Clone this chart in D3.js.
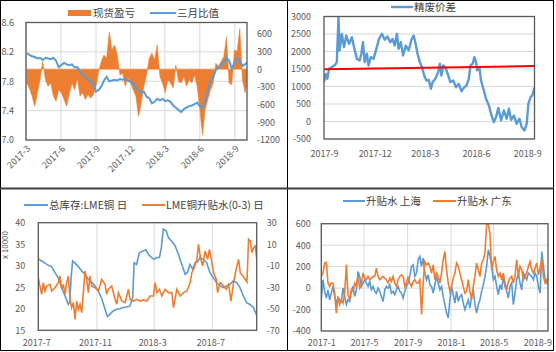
<!DOCTYPE html>
<html><head><meta charset="utf-8">
<script src="https://cdn.jsdelivr.net/npm/d3@7"></script>
<style>
body{margin:0;background:#fff;}
svg text{font-family:"Noto Sans CJK SC","Microsoft YaHei",sans-serif;}
</style></head><body>
<svg id="c" width="556" height="352"></svg>
<script>
// ---------- DATA ----------
// Panel 1 (top-left): weekly, starting 2017-03-03
const plStart = "2017-03-03";
const plValues = [-235,-320,-460,-630,-400,-180,130,-180,-290,-235,-460,-545,-350,-400,-515,-630,-400,-235,-350,-150,
 -460,-400,-515,-430,-490,-430,-290,-40,130,240,185,630,325,410,240,-100,-70,-290,-150,-235,
 -350,-460,-800,-570,-290,-100,185,270,155,410,-125,-235,-400,-180,-235,-320,70,-210,-235,-125,
 -290,-180,-235,-100,-290,-680,-1110,-680,-515,-350,-235,100,45,130,210,545,-235,-265,325,300,
 685,-180,-400,-180];
const ratioValues = [8.18,8.16,8.14,8.13,8.11,8.12,8.09,8.12,8.11,8.10,8.12,8.08,7.99,8.02,8.05,8.03,8.02,8.03,7.99,7.99,
 7.94,7.89,7.86,7.83,7.79,7.78,7.66,7.68,7.73,7.81,7.86,7.80,7.81,7.82,7.81,7.83,7.82,7.83,7.81,7.79,
 7.77,7.71,7.68,7.64,7.66,7.59,7.57,7.50,7.52,7.56,7.54,7.56,7.53,7.54,7.52,7.47,7.44,7.41,7.38,7.42,
 7.44,7.46,7.47,7.49,7.51,7.46,7.44,7.54,7.68,7.81,7.85,7.95,7.99,8.02,8.05,8.12,8.08,7.97,8.05,8.11,
 8.08,8.01,8.03,8.06];
const tlXTicks = ["2017-03-01","2017-06-01","2017-09-01","2017-12-01","2018-03-01","2018-06-01","2018-09-01"];
const tlLeftTicks = [7.0,7.4,7.8,8.2,8.6];
const tlRightTicks = [-1200,-900,-600,-300,0,300,600];

// Panel 2 (top-right): days after 2017-09-01
const spreadStart = "2017-09-01";
const spreadDays = [0,3,6,9,14,20,23,26,28,32,36,40,45,50,54,59,64,67,70,73,77,80,84,89,94,99,104,109,114,119,
 123,127,131,134,138,142,147,152,157,161,164,168,172,176,180,184,188,192,195,200,205,208,211,214,218,223,227,232,237,242,
 247,251,256,260,263,267,270,273,275,279,282,287,291,296,300,305,309,313,318,323,328,332,336,341,346,351,355,360,364,367,
 371,374,378];
const spreadValues = [1125,1360,1220,1505,1550,1620,1700,2980,2030,2500,2125,2455,2220,2410,2125,1790,1745,1935,2265,1695,
 1935,1600,1840,1790,2075,2360,2505,2335,2430,2265,2360,2170,2505,2075,2265,1885,2170,2030,2335,2455,
 2265,1935,1695,1550,1315,1170,1190,935,1125,1220,1410,1650,1315,1600,1550,1315,1125,1170,980,1075,
 865,960,1030,1220,1600,1650,1840,1700,1460,1550,1170,885,650,460,220,-20,125,390,30,315,
 80,365,50,170,-65,80,-160,-255,-65,505,700,745,960];
const trendDays = [0,378];
const trendValues = [1490,1585];
const trXTicks = ["2017-09-01","2017-12-01","2018-03-01","2018-06-01","2018-09-01"];
const trYTicks = [-500,0,500,1000,1500,2000,2500,3000];

// Panel 3 (bottom-left): days after 2017-07-01
const blStart = "2017-07-01";
const invDays = [0,7,14,21,28,35,42,49,56,63,66,69,72,77,84,91,98,105,112,119,126,133,140,145,150,157,164,171,178,185,
 192,198,201,206,212,219,226,231,238,243,248,254,258,262,268,273,280,287,294,301,308,313,318,324,329,334,339,346,353,360,
 367,374,381,388,395,402,409,416,423,430,437,444,451,458];
const invValues = [31.6,31.1,30.6,30.1,29.8,28.4,27.2,24.9,23.0,21.0,21.6,27.6,31.1,30.6,29.8,28.8,28.0,26.8,26.2,25.3,
 24.1,22.4,19.9,18.2,18.7,19.5,19.9,20.0,20.3,20.4,20.6,22.6,30.7,30.3,33.0,33.4,33.7,32.6,31.9,31.5,
 31.9,31.9,34.2,38.5,38.1,36.5,35.7,34.6,32.6,30.3,28.0,28.5,30.3,29.2,30.7,30.9,31.9,31.5,30.7,28.4,
 27.2,26.1,25.3,24.9,25.3,25.7,26.5,26.1,24.9,23.0,21.4,21.0,20.3,18.5];
const basisDays = [0,3.5,7,10.5,14,17.5,24.5,28,35,42,45.5,49,52.5,56,59.5,63,66.5,70,73.5,77,
 80.5,84,87.5,91,94.5,98,101.5,105,108.5,112,119,126,133,140,143.5,147,154,161,164.5,168,
 175,182,189,192.5,199.5,206.5,213.5,220.5,227.5,234.5,241.5,245,248.5,254,259,266,273,280,283.5,290.5,
 297.5,304.5,311.5,318.5,322,327,332.5,336,339.5,344.5,350,355,359,364,367.5,373,376,381.5,388.5,394,
 399,404,409.5,415,420,423.5,429,434,437.5,441,444.5,448,451.5,455,458.5];
const basisValues = [-21.1,-28.8,-36.6,-25.7,-33.5,-28.8,-27.3,-33.5,-30.4,-25.7,-19.5,-31.9,-27.3,-36.6,-25.7,-19.5,-41.2,-48.9,-44.3,-59.8,
 -42.8,-50.5,-45.9,-53.6,-35.0,-14.9,-22.6,-35.0,-19.5,-28.8,-30.4,-33.5,-22.6,-27.3,-36.6,-31.9,-28.8,-41.2,-45.9,-35.0,
 -42.8,-44.3,-31.9,-41.2,-42.8,-41.2,-42.8,-41.8,-42.8,-38.1,-38.1,-25.7,-35.0,-31.9,-38.1,-31.9,-35.0,-35.0,-48.9,-31.9,
 -38.1,-35.0,-33.5,-25.7,-16.4,-11.8,-4.1,9.9,-1.0,-10.2,3.7,-4.1,5.2,-7.2,-16.4,-22.6,-35.0,-25.7,-28.8,-31.9,
 -27.3,-42.8,-25.7,-13.3,-4.1,-16.4,-19.5,-22.6,-25.1,14.5,13.0,2.1,6.8,8.3,-5.6];
const blXTicks = ["2017-07-01","2017-11-01","2018-03-01","2018-07-01"];
const blLeftTicks = [15,20,25,30,35,40];
const blRightTicks = [-70,-50,-30,-10,10,30];

// Panel 4 (bottom-right): regular samples from 2017-01-01 every 4.7 days
const brStart = "2017-01-01";
const brStepDays = 4.7;
const shValues = [-109,78,-31,-93,-16,-109,-47,16,-78,-136,-93,-109,-124,0,-78,-155,-109,-124,-31,16,
 -78,-16,155,109,16,47,78,47,16,62,-16,16,-31,-47,0,-31,-78,-124,-16,16,
 0,31,-47,-31,-62,-16,16,-31,-47,-93,-31,16,47,109,202,217,109,140,264,295,
 202,279,140,78,124,31,16,-47,31,109,47,-16,16,-78,-155,-233,-279,-109,16,-62,
 -140,-31,-124,-78,-62,-140,-202,-155,-109,-186,-78,-16,-155,-233,-155,-109,-31,31,109,202,
 357,295,217,78,109,16,-62,31,-16,109,16,-31,-93,16,47,-155,-47,78,140,47,
 -16,140,109,78,140,124,109,78,140,109,16,-47,341,202,78,47,124];
const gdValues = [109,140,233,239,47,16,47,47,-47,-233,-78,-155,-109,-140,-47,217,-62,-109,-16,-31,
 47,16,109,0,31,140,93,78,109,78,93,109,109,186,109,78,93,109,93,78,
 47,93,62,109,47,16,78,109,124,109,16,47,109,47,16,62,78,47,47,78,
 -245,47,248,217,233,202,140,217,78,140,109,47,140,264,341,171,47,-31,16,93,
 140,233,202,140,78,16,-47,-31,78,-31,-109,16,109,233,171,109,233,264,326,594,
 594,512,171,248,295,171,109,140,78,140,47,-16,62,93,109,47,109,264,109,202,
 171,78,109,140,202,248,171,140,186,233,124,186,264,109,47,78,93];
const brXTicks = ["2017-01-01","2017-05-01","2017-09-01","2018-01-01","2018-05-01","2018-09-01"];
const brYTicks = [-400,-200,0,200,400,600];

// ---------- DRAWING ----------
const C = {blue:"#5B9BD5", orange:"#ED7D31", red:"#FF0000", grid:"#D9D9D9", tick:"#595959", text:"#404040", box:"#595959"};
const parse = d3.utcParse("%Y-%m-%d");
const offs = (s, d) => new Date(parse(s).getTime() + d * 864e5);
const fmtM = d3.utcFormat("%Y-%-m");
const svg = d3.select("#c");
const TICK_FS = 9, LEG_FS = 10.5;

function styleAxis(g) {
  g.select(".domain").remove();
  g.selectAll("text").attr("fill", C.tick).style("font-size", TICK_FS + "px").attr("font-family", null);
}
function clip(id, x0, y0, x1, y1) {
  svg.append("clipPath").attr("id", id).append("rect").attr("x", x0).attr("y", y0).attr("width", x1 - x0).attr("height", y1 - y0);
  return "url(#" + id + ")";
}
function box(x0, y0, x1, y1) {
  svg.append("rect").attr("x", x0).attr("y", y0).attr("width", x1 - x0).attr("height", y1 - y0)
    .attr("fill", "none").attr("stroke", C.box).attr("stroke-width", 1.3);
}
function hgrid(ys, vals, x0, x1) {
  svg.append("g").selectAll("line").data(vals).join("line")
    .attr("x1", x0).attr("x2", x1).attr("y1", d => ys(d)).attr("y2", d => ys(d))
    .attr("stroke", C.grid).attr("stroke-width", 1);
}
function vgrid(xs, vals, y0, y1) {
  svg.append("g").selectAll("line").data(vals).join("line")
    .attr("x1", d => xs(d)).attr("x2", d => xs(d)).attr("y1", y0).attr("y2", y1)
    .attr("stroke", C.grid).attr("stroke-width", 1);
}
function legLine(x0, x1, y, color, label, w) {
  svg.append("line").attr("x1", x0).attr("x2", x1).attr("y1", y).attr("y2", y).attr("stroke", color).attr("stroke-width", w || 2);
  svg.append("text").attr("x", x1 + 1).attr("y", y).attr("dy", "0.35em").attr("fill", C.text)
    .style("font-size", LEG_FS + "px").text(label);
}

// ---- Panel 1 ----
{
  const L = 26, R = 247, T = 22.5, B = 140;
  const x = d3.scaleUtc().domain([parse("2017-03-01"), parse("2018-10-03")]).range([L, R]);
  const yl = d3.scaleLinear().domain([7.0, 8.6]).range([B, T]);
  const yr = d3.scaleLinear().domain([-1200, 790]).range([B, T]);
  const xt = tlXTicks.map(parse);
  hgrid(yl, tlLeftTicks, L, R);
  vgrid(x, xt, T, B);
  const cp = clip("cp1", L, T, R, B);
  const dates = plValues.map((v, i) => d3.utcDay.offset(parse(plStart), 7 * i));
  const g = svg.append("g").attr("clip-path", cp);
  g.append("path").datum(plValues)
    .attr("d", d3.area().x((v, i) => x(dates[i])).y0(yr(0)).y1(v => yr(v)))
    .attr("fill", C.orange).attr("stroke", C.orange).attr("stroke-width", 0.6);
  g.append("path").datum(ratioValues)
    .attr("d", d3.line().x((v, i) => x(dates[i])).y(v => yl(v)))
    .attr("fill", "none").attr("stroke", C.blue).attr("stroke-width", 2);
  box(L, T, R, B);
  svg.append("g").attr("transform", `translate(${L},0)`)
    .call(d3.axisLeft(yl).tickValues(tlLeftTicks).tickSize(0).tickPadding(12).tickFormat(d3.format(".1f"))).call(styleAxis);
  svg.append("g").attr("transform", `translate(${R},0)`)
    .call(d3.axisRight(yr).tickValues(tlRightTicks).tickSize(0).tickPadding(10).tickFormat(d => String(d))).call(styleAxis);
  const ax = svg.append("g").attr("transform", `translate(0,${B})`)
    .call(d3.axisBottom(x).tickValues(xt).tickSize(0).tickFormat(fmtM)).call(styleAxis);
  ax.selectAll("text").attr("y", 0).attr("x", 0).attr("dy", "0.35em").attr("text-anchor", "end")
    .attr("transform", "translate(2,7) rotate(-45)");
  // legend
  svg.append("rect").attr("x", 68).attr("y", 10).attr("width", 23).attr("height", 6).attr("fill", C.orange);
  svg.append("text").attr("x", 93).attr("y", 13).attr("dy", "0.35em").attr("fill", C.text).style("font-size", LEG_FS + "px").text("现货盈亏");
  legLine(150, 176, 13, C.blue, "三月比值");
}

// ---- Panel 2 ----
{
  const L = 324, R = 534.5, T = 16.5, B = 139;
  const x = d3.scaleUtc().domain([parse("2017-09-01"), parse("2018-09-14")]).range([L, R]);
  const y = d3.scaleLinear().domain([-500, 3000]).range([B, T]);
  hgrid(y, trYTicks, L, R);
  const cp = clip("cp2", L, T - 2, R, B);
  const g = svg.append("g").attr("clip-path", cp);
  g.append("path").datum(spreadValues)
    .attr("d", d3.line().x((v, i) => x(offs(spreadStart, spreadDays[i]))).y(v => y(v)))
    .attr("fill", "none").attr("stroke", C.blue).attr("stroke-width", 2.4).attr("stroke-linejoin", "round");
  g.append("path").datum(trendValues)
    .attr("d", d3.line().x((v, i) => x(offs(spreadStart, trendDays[i]))).y(v => y(v)))
    .attr("fill", "none").attr("stroke", C.red).attr("stroke-width", 2);
  box(L, T, R, B);
  svg.append("g").attr("transform", `translate(${L},0)`)
    .call(d3.axisLeft(y).tickValues(trYTicks).tickSize(0).tickPadding(13).tickFormat(d => String(d))).call(styleAxis);
  const ax = svg.append("g").attr("transform", `translate(0,${B})`)
    .call(d3.axisBottom(x).tickValues(trXTicks.map(parse)).tickSize(0).tickFormat(fmtM)).call(styleAxis);
  ax.selectAll("text").attr("y", 15).attr("dy", "0.35em");
  legLine(391, 413, 7, C.blue, "精废价差", 2.4);
}

// ---- Panel 3 ----
{
  const L = 38.3, R = 256.7, T = 222.7, B = 330.3;
  const x = d3.scaleUtc().domain([parse("2017-07-01"), parse("2018-10-02")]).range([L, R]);
  const yl = d3.scaleLinear().domain([15, 40]).range([B, T]);
  const yr = d3.scaleLinear().domain([-70, 30]).range([B, T]);
  const xt = blXTicks.map(parse);
  vgrid(x, xt, T, B);
  const cp = clip("cp3", L, T, R, B);
  const g = svg.append("g").attr("clip-path", cp);
  g.append("path").datum(invValues)
    .attr("d", d3.line().x((v, i) => x(offs(blStart, invDays[i]))).y(v => yl(v)))
    .attr("fill", "none").attr("stroke", C.blue).attr("stroke-width", 1.6);
  g.append("path").datum(basisValues)
    .attr("d", d3.line().x((v, i) => x(offs(blStart, basisDays[i]))).y(v => yr(v)))
    .attr("fill", "none").attr("stroke", C.orange).attr("stroke-width", 1.6);
  box(L, T, R, B);
  svg.append("g").attr("transform", `translate(${L},0)`)
    .call(d3.axisLeft(yl).tickValues(blLeftTicks).tickSize(0).tickPadding(13).tickFormat(d => String(d))).call(styleAxis);
  svg.append("g").attr("transform", `translate(${R},0)`)
    .call(d3.axisRight(yr).tickValues(blRightTicks).tickSize(0).tickPadding(10).tickFormat(d => String(d))).call(styleAxis);
  const ax = svg.append("g").attr("transform", `translate(0,${B})`)
    .call(d3.axisBottom(x).tickValues(xt).tickSize(0).tickFormat(fmtM)).call(styleAxis);
  ax.selectAll("text").attr("y", 12.7).attr("dy", "0.35em").attr("dx", -2);
  svg.append("text").attr("transform", "translate(5,245) rotate(-90)").attr("text-anchor", "middle").attr("dy", "0.35em")
    .attr("fill", C.tick).style("font-size", "8px").text("x 10000");
  legLine(24, 48, 205, C.blue, "总库存:LME铜 日");
  legLine(142, 165, 205, C.orange, "LME铜升贴水(0-3) 日");
}

// ---- Panel 4 ----
{
  const L = 321.3, R = 548, T = 223.7, B = 331;
  const x = d3.scaleUtc().domain([parse("2017-01-01"), parse("2018-10-01")]).range([L, R]);
  const y = d3.scaleLinear().domain([-400, 600]).range([B, T]);
  const xt = brXTicks.map(parse);
  hgrid(y, brYTicks, L, R);
  vgrid(x, xt, T, B);
  const cp = clip("cp4", L, T, R, B);
  const g = svg.append("g").attr("clip-path", cp);
  const xd = (v, i) => x(offs(brStart, i * brStepDays));
  g.append("path").datum(shValues)
    .attr("d", d3.line().x(xd).y(v => y(v)))
    .attr("fill", "none").attr("stroke", C.blue).attr("stroke-width", 1.6);
  g.append("path").datum(gdValues)
    .attr("d", d3.line().x(xd).y(v => y(v)))
    .attr("fill", "none").attr("stroke", C.orange).attr("stroke-width", 1.6);
  box(L, T, R, B);
  svg.append("g").attr("transform", `translate(${L},0)`)
    .call(d3.axisLeft(y).tickValues(brYTicks).tickSize(0).tickPadding(10.5).tickFormat(d => String(d))).call(styleAxis);
  const ax = svg.append("g").attr("transform", `translate(0,${B})`)
    .call(d3.axisBottom(x).tickValues(xt).tickSize(0).tickFormat(fmtM)).call(styleAxis);
  ax.selectAll("text").attr("y", 12).attr("dy", "0.35em");
  legLine(343, 365, 201, C.blue, "升贴水 上海");
  legLine(433, 456, 201, C.orange, "升贴水 广东");
}

// ---- frame / dividers ----
svg.append("rect").attr("x", 0.5).attr("y", 0.5).attr("width", 553).attr("height", 350).attr("fill", "none").attr("stroke", "#000").attr("stroke-width", 1);
svg.append("line").attr("x1", 287.5).attr("x2", 287.5).attr("y1", 0).attr("y2", 351).attr("stroke", "#000").attr("stroke-width", 1);
svg.append("line").attr("x1", 0).attr("x2", 554).attr("y1", 188.5).attr("y2", 188.5).attr("stroke", "#404040").attr("stroke-width", 2);
</script>
</body></html>
